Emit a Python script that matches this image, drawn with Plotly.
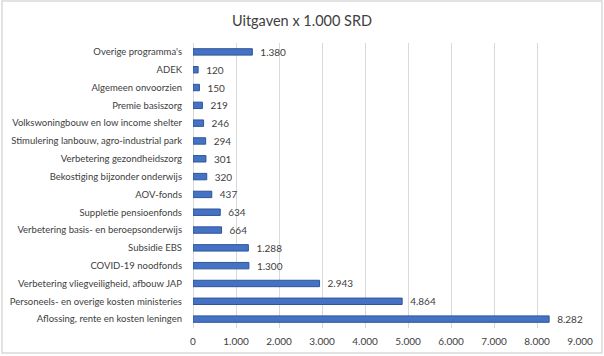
import plotly.graph_objects as go

categories = [
    "Overige programma's",
    "ADEK",
    "Algemeen onvoorzien",
    "Premie basiszorg",
    "Volkswoningbouw en low income shelter",
    "Stimulering lanbouw, agro-industrial park",
    "Verbetering gezondheidszorg",
    "Bekostiging bijzonder onderwijs",
    "AOV-fonds",
    "Suppletie pensioenfonds",
    "Verbetering basis- en beroepsonderwijs",
    "Subsidie EBS",
    "COVID-19 noodfonds",
    "Verbetering vliegveiligheid, afbouw JAP",
    "Personeels- en overige kosten ministeries",
    "Aflossing, rente en kosten leningen",
]
values = [1380, 120, 150, 219, 246, 294, 301, 320, 437, 634, 664, 1288, 1300, 2943, 4864, 8282]
tick_vals = [0, 1000, 2000, 3000, 4000, 5000, 6000, 7000, 8000, 9000]
tick_text = ["0", "1.000", "2.000", "3.000", "4.000", "5.000", "6.000", "7.000", "8.000", "9.000"]
title_text = "Uitgaven x 1.000 SRD"

def fmt(v):
    return f"{v:,}".replace(",", ".")

FONT = "Lato"

fig = go.Figure(go.Bar(
    y=categories,
    x=values,
    orientation="h",
    marker=dict(color="#4472C4", line=dict(color="#2F5597", width=1)),
    text=["\u2002" + fmt(v) for v in values],
    textposition="outside",
    constraintext="none",
    textfont=dict(family=FONT, size=10, color="#404040"),
    cliponaxis=False,
    width=0.36,
    hoverinfo="skip",
))

fig.update_layout(
    width=604, height=356,
    paper_bgcolor="white", plot_bgcolor="white",
    margin=dict(l=193, r=24, t=43, b=28, autoexpand=False),
    title=dict(text=title_text, x=0.5, xanchor="center", y=0.94, yanchor="middle",
               font=dict(family=FONT, size=14.5, color="#404040")),
    showlegend=False,
    xaxis=dict(range=[0, 9000], tickvals=tick_vals, ticktext=tick_text,
               automargin=False,
               showgrid=True, gridcolor="#D9D9D9", gridwidth=1,
               zeroline=True, zerolinecolor="#D9D9D9", zerolinewidth=1,
               showline=False, ticks="",
               ticklabelstandoff=6,
               tickfont=dict(family=FONT, size=10, color="#404040")),
    yaxis=dict(autorange="reversed", showgrid=False, zeroline=False, ticks="",
               automargin=False,
               ticklabelstandoff=10,
               tickfont=dict(family=FONT, size=9.5, color="#404040")),
)
# outer border around whole chart
fig.add_shape(type="rect", xref="paper", yref="paper",
              x0=-191/387, x1=1 + 22/387, y0=-25/285, y1=1 + 42/285,
              line=dict(color="#D9D9D9", width=1.5))

fig.write_html("out.html", config={"displayModeBar": False},
               post_script="document.body.style.margin='0';document.body.style.overflow='hidden';")
